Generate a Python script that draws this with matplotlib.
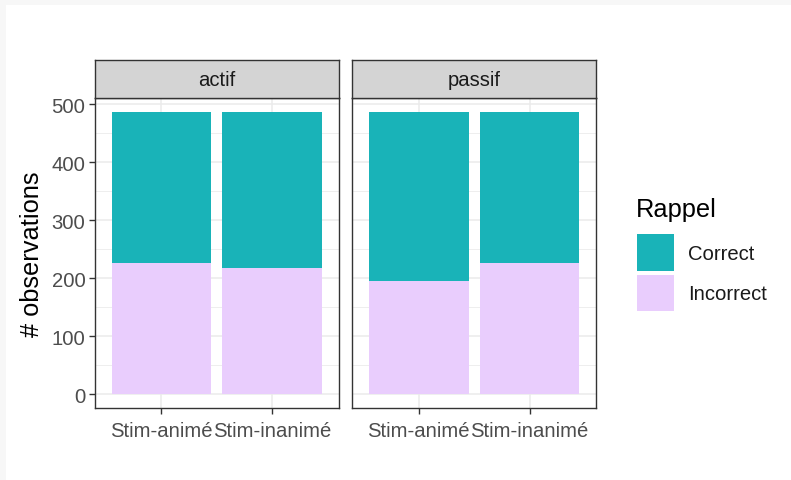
import numpy as np
import matplotlib.pyplot as plt
from matplotlib.patches import Rectangle

plt.rcParams['font.family'] = ['Liberation Sans', 'DejaVu Sans']

# data
facets = ["actif", "passif"]
stimuli = ["Stim-animé", "Stim-inanimé"]
incorrect = {"actif": [226, 218], "passif": [196, 226]}
correct = {"actif": [260, 268], "passif": [290, 260]}
rappel = ["Correct", "Incorrect"]

teal = "#19b3b8"
lav = "#e9cdfd"
W, H = 791, 481
small, big = 14.6, 18.3

fig = plt.figure(figsize=(W / 100, H / 100), dpi=100)
fig.patch.set_facecolor("#f7f7f7")
fig.patches.append(Rectangle((6 / W, 0), 1, 1 - 6 / H, transform=fig.transFigure,
                             facecolor="white", edgecolor="none", zorder=-5))

panel_left = [95, 352.3]
panel_w = 243.7
top, bottom = 99.3, 409.3
strip_top = 61

x = np.arange(1, len(stimuli) + 1)
for i, f in enumerate(facets):
    ax = fig.add_axes([panel_left[i] / W, 1 - bottom / H, panel_w / W, (bottom - top) / H])
    ax.set_facecolor("white")
    ax.bar(x, incorrect[f], width=0.9, color=lav, zorder=2)
    ax.bar(x, correct[f], width=0.9, bottom=incorrect[f], color=teal, zorder=2)
    tot = max(max(np.add(incorrect[k], correct[k])) for k in facets)
    ax.set_ylim(-0.05 * tot, 1.05 * tot)
    ax.set_xlim(0.4, 2.6)
    ax.set_yticks([0, 100, 200, 300, 400, 500])
    ax.set_yticks([50, 150, 250, 350, 450], minor=True)
    ax.set_xticks(x)
    ax.set_xticklabels(stimuli)
    ax.grid(True, which="major", color="#ebebeb", linewidth=1.1, zorder=0)
    ax.grid(True, which="minor", axis="y", color="#ebebeb", linewidth=0.6, zorder=0)
    ax.set_axisbelow(True)
    for s in ax.spines.values():
        s.set_color("#333333")
        s.set_linewidth(1.0)
    ax.tick_params(which="major", length=4, width=1.0, color="#333333",
                   labelsize=small, labelcolor="#4d4d4d", pad=3)
    ax.tick_params(axis="x", pad=5)
    ax.tick_params(which="minor", length=0)
    if i == 0:
        ax.set_ylabel("# observations", fontsize=big, color="black", labelpad=5)
    else:
        ax.tick_params(axis="y", which="major", length=0, labelleft=False)
    # facet strip
    sax = fig.add_axes([panel_left[i] / W, 1 - top / H, panel_w / W, (top - strip_top) / H])
    sax.set_facecolor("#d4d4d4")
    sax.set_xticks([])
    sax.set_yticks([])
    for s in sax.spines.values():
        s.set_color("#333333")
        s.set_linewidth(1.0)
    sax.text(0.5, 0.5, f, ha="center", va="center", fontsize=small, color="#1a1a1a",
             transform=sax.transAxes)

# legend drawn by hand in the ggplot style
fig.text(636 / W, 1 - 210 / H, "Rappel", fontsize=big, va="center", ha="left")
keys = [(235, teal), (275.7, lav)]
for (ky, col), lab in zip(keys, rappel):
    fig.patches.append(Rectangle((637 / W, 1 - (ky + 36.5) / H), 37 / W, 36.5 / H,
                                 transform=fig.transFigure, facecolor=col,
                                 edgecolor="none", zorder=3))
    fig.text(688 / W, 1 - (ky + 19) / H, lab, fontsize=small, va="center", ha="left",
             color="#1a1a1a")

fig.savefig("out.png", dpi=100)
